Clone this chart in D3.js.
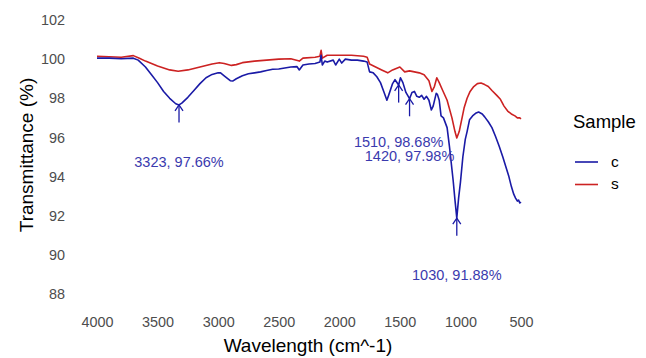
<!DOCTYPE html>
<html>
<head>
<meta charset="utf-8">
<script src="https://cdn.jsdelivr.net/npm/d3@7"></script>
<style>
  body { margin: 0; background: #fff; }
  svg { font-family: "Liberation Sans", Arial, sans-serif; }
</style>
</head>
<body>
<div id="chart"></div>
<script>
// wavenumber (cm^-1) and transmittance (%)
const wnC = [4000, 3900, 3800, 3700, 3660, 3600, 3550, 3500, 3450, 3400, 3350, 3323, 3300, 3250, 3200, 3150, 3100, 3050, 3000, 2980, 2950, 2900, 2880, 2850, 2800, 2750, 2700, 2650, 2600, 2550, 2500, 2450, 2400, 2350, 2330, 2300, 2250, 2200, 2160, 2150, 2140, 2120, 2100, 2050, 2030, 2000, 1980, 1950, 1900, 1850, 1800, 1770, 1750, 1720, 1690, 1660, 1630, 1607, 1590, 1560, 1540, 1510, 1495, 1475, 1450, 1420, 1400, 1380, 1360, 1340, 1320, 1300, 1280, 1260, 1240, 1225, 1200, 1190, 1175, 1160, 1140, 1110, 1090, 1060, 1045, 1030, 1015, 1000, 980, 960, 945, 925, 900, 870, 850, 820, 800, 770, 740, 710, 680, 650, 620, 600, 580, 560, 545, 530, 520, 510, 500];
const valC = [100.05, 100.05, 100.02, 100.05, 99.95, 99.6, 99.2, 98.8, 98.35, 98.0, 97.72, 97.66, 97.75, 98.05, 98.4, 98.75, 99.05, 99.22, 99.3, 99.3, 99.15, 98.9, 98.88, 99.0, 99.15, 99.25, 99.3, 99.35, 99.42, 99.48, 99.5, 99.55, 99.6, 99.62, 99.45, 99.7, 99.75, 99.78, 99.85, 100.2, 99.7, 99.9, 99.85, 99.95, 99.7, 100.0, 99.8, 100.0, 99.95, 99.95, 99.9, 99.85, 99.35, 99.3, 99.1, 98.8, 98.3, 97.9, 98.2, 98.75, 98.95, 98.68, 99.05, 98.8, 98.3, 97.98, 98.3, 98.35, 98.1, 98.05, 98.15, 97.95, 98.1, 97.9, 97.4, 97.6, 98.25, 98.2, 97.9, 97.1, 97.0, 96.5, 95.5, 93.8, 92.8, 91.88, 92.9, 93.7, 95.0, 95.9, 96.3, 96.9, 97.1, 97.25, 97.3, 97.2, 97.05, 96.8, 96.5, 96.05, 95.55, 95.0, 94.4, 94.0, 93.5, 93.1, 92.9, 92.75, 92.8, 92.65, 92.7];

const wnS = [4000, 3900, 3800, 3700, 3650, 3600, 3500, 3400, 3330, 3250, 3150, 3050, 2990, 2950, 2890, 2850, 2800, 2700, 2600, 2500, 2400, 2330, 2300, 2200, 2160, 2150, 2140, 2100, 2000, 1900, 1800, 1770, 1750, 1700, 1650, 1600, 1560, 1520, 1500, 1460, 1420, 1380, 1340, 1300, 1260, 1235, 1215, 1195, 1175, 1150, 1110, 1070, 1045, 1030, 1010, 990, 970, 945, 920, 890, 860, 830, 800, 770, 740, 700, 670, 640, 610, 580, 550, 530, 510, 500];
const valS = [100.15, 100.12, 100.1, 100.18, 100.05, 99.9, 99.65, 99.45, 99.38, 99.45, 99.6, 99.75, 99.82, 99.78, 99.68, 99.72, 99.82, 99.9, 99.95, 100.0, 100.02, 99.9, 100.05, 100.1, 100.15, 100.45, 100.05, 100.2, 100.2, 100.2, 100.15, 100.1, 99.75, 99.6, 99.45, 99.3, 99.45, 99.55, 99.6, 99.35, 99.4, 99.35, 99.3, 99.2, 98.9, 98.35, 98.6, 99.05, 98.8, 98.45, 97.9, 97.0, 96.3, 95.97, 96.3, 96.9, 97.5, 98.0, 98.35, 98.6, 98.75, 98.78, 98.7, 98.6, 98.4, 98.15, 97.95, 97.6, 97.35, 97.2, 97.1, 97.0, 97.0, 96.95];

const annoWn = [3323, 1510, 1420, 1030];
const annoVal = [97.66, 98.68, 97.98, 91.88];
const annoText = ['3323, 97.66%', '1510, 98.68%', '1420, 97.98%', '1030, 91.88%'];

const xTicks = [4000, 3500, 3000, 2500, 2000, 1500, 1000, 500];
const yTicks = [88, 90, 92, 94, 96, 98, 100, 102];

const sampleNames = ['c', 's'];
const colors = { c: '#1a1aa6', s: '#cc2222' };

const width = 646, height = 358;

const svg = d3.select('#chart')
  .append('svg')
  .attr('width', width)
  .attr('height', height);

const x = d3.scaleLinear().domain([4000, 500]).range([97, 521]);
const y = d3.scaleLinear().domain([88, 102]).range([294, 20]);

// axes, no ticks or lines, just labels
const xAxis = d3.axisBottom(x).tickValues(xTicks).tickSize(0).tickPadding(3).tickFormat(d3.format('d'));
const yAxis = d3.axisLeft(y).tickValues(yTicks).tickSize(0).tickPadding(3).tickFormat(d3.format('d'));

const gx = svg.append('g').attr('transform', 'translate(0,314)').call(xAxis);
const gy = svg.append('g').attr('transform', 'translate(68,0)').call(yAxis);
[gx, gy].forEach(g => {
  g.select('.domain').remove();
  g.selectAll('text')
    .attr('fill', '#4d4d4d')
    .style('font-size', '14.4px')
    .style('font-family', '"Liberation Sans", Arial, sans-serif');
});

svg.append('text')
  .attr('x', 308)
  .attr('y', 352)
  .attr('text-anchor', 'middle')
  .style('font-size', '19px')
  .text('Wavelength (cm^-1)');

svg.append('text')
  .attr('transform', 'translate(33,155) rotate(-90)')
  .attr('text-anchor', 'middle')
  .style('font-size', '19px')
  .text('Transmittance (%)');

const line = d3.line()
  .x(d => x(d[0]))
  .y(d => y(d[1]));

const seriesData = {
  c: wnC.map((w, i) => [w, valC[i]]),
  s: wnS.map((w, i) => [w, valS[i]])
};

// red under blue
['s', 'c'].forEach(k => {
  svg.append('path')
    .datum(seriesData[k])
    .attr('fill', 'none')
    .attr('stroke', colors[k])
    .attr('stroke-width', 1.6)
    .attr('stroke-linejoin', 'round')
    .attr('d', line);
});

// arrows pointing up at the marked peaks
annoWn.forEach((w, i) => {
  const px = x(w);
  const top = y(annoVal[i]);
  const bottom = y(annoVal[i] - 0.9);
  svg.append('line')
    .attr('x1', px).attr('x2', px)
    .attr('y1', top).attr('y2', bottom)
    .attr('stroke', colors.c)
    .attr('stroke-width', 1.3);
  svg.append('path')
    .attr('d', `M${px - 4},${top + 6}L${px},${top}L${px + 4},${top + 6}`)
    .attr('fill', 'none')
    .attr('stroke', colors.c)
    .attr('stroke-width', 1.3);
  svg.append('text')
    .attr('x', px)
    .attr('y', y(annoVal[i] - 2.9))
    .attr('dy', '0.35em')
    .attr('text-anchor', 'middle')
    .attr('fill', '#3a3aae')
    .style('font-size', '14.5px')
    .text(annoText[i]);
});

// legend
const legend = svg.append('g');
legend.append('text')
  .attr('x', 573)
  .attr('y', 122)
  .attr('dy', '0.35em')
  .style('font-size', '18.5px')
  .text('Sample');

sampleNames.forEach((k, i) => {
  const ly = 162 + i * 22.5;
  legend.append('line')
    .attr('x1', 575).attr('x2', 598)
    .attr('y1', ly).attr('y2', ly)
    .attr('stroke', colors[k])
    .attr('stroke-width', 1.6);
  legend.append('text')
    .attr('x', 611)
    .attr('y', ly)
    .attr('dy', '0.32em')
    .style('font-size', '15.5px')
    .text(k);
});
</script>
</body>
</html>
